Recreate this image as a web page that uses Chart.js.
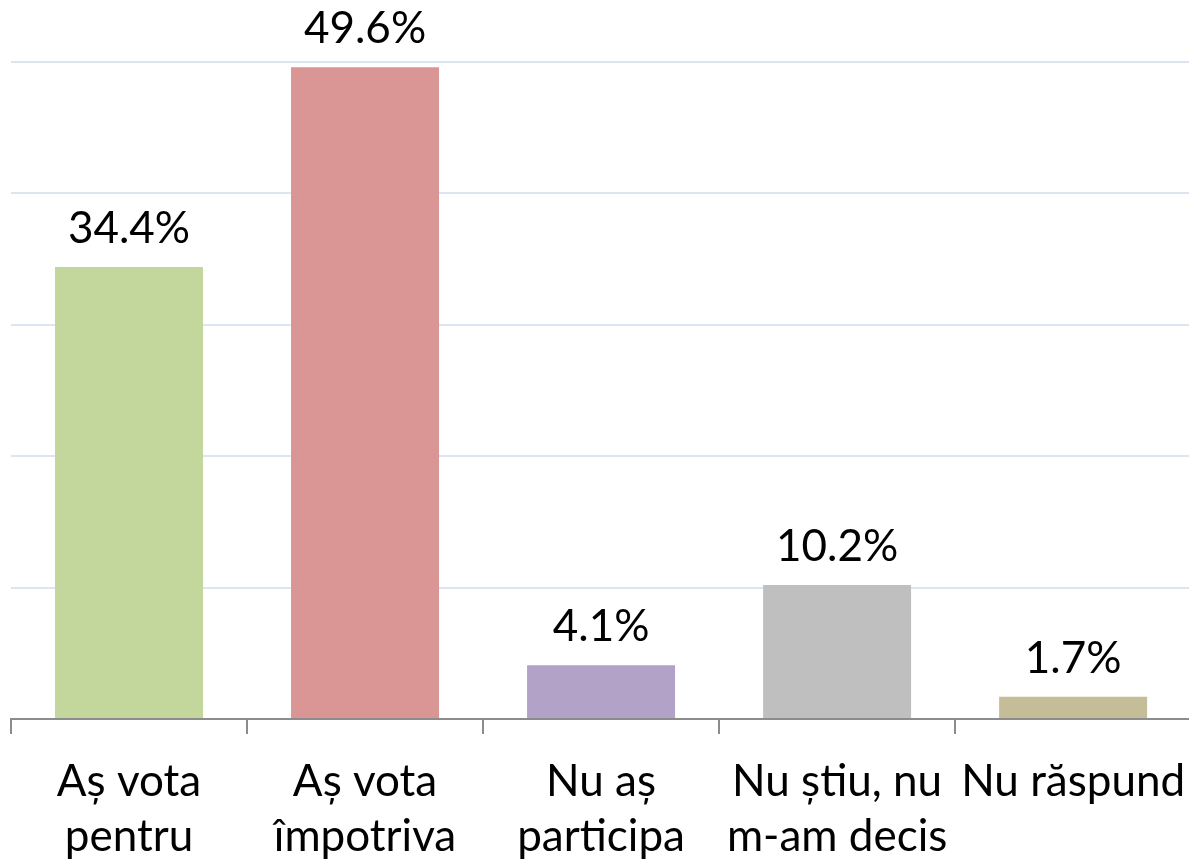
<!DOCTYPE html>
<html><head><meta charset="utf-8">
<script src="https://cdn.jsdelivr.net/npm/chart.js@4"></script>
<style>
html,body{margin:0;padding:0;background:#fff;overflow:hidden;}
#wrap{width:1189px;height:865px;overflow:hidden;}
</style></head>
<body><div id="wrap"><canvas id="c" width="1206" height="884"></canvas></div>
<script>
const categories = [['Aș vota','pentru'],['Aș vota','împotriva'],['Nu aș','participa'],['Nu știu, nu','m-am decis'],['Nu răspund']];
const values = [34.4, 49.6, 4.1, 10.2, 1.7];
const barColors = ['#c3d69b','#d99694','#b3a2c7','#bfbfbf','#c4bd97'];
const FONT = 'Lato, "Open Sans", sans-serif';

const valueLabels = {
  id:'valueLabels',
  afterDatasetsDraw(chart){
    const ctx = chart.ctx;
    const meta = chart.getDatasetMeta(0);
    ctx.save();
    ctx.font = '44px ' + FONT;
    ctx.fillStyle = '#000';
    ctx.textAlign = 'center';
    ctx.textBaseline = 'alphabetic';
    meta.data.forEach((bar,i)=>{
      ctx.fillText(values[i].toFixed(1)+'%', bar.x, bar.y - 24);
    });
    ctx.restore();
  }
};

new Chart(document.getElementById('c'),{
  type:'bar',
  data:{labels:categories,datasets:[{data:values,backgroundColor:barColors,borderWidth:0,categoryPercentage:1,barPercentage:0.627}]},
  options:{
    responsive:false,animation:false,
    layout:{padding:{left:11,right:9,top:62,bottom:0}},
    plugins:{legend:{display:false},tooltip:{enabled:false}},
    scales:{
      x:{
        offset:true,
        grid:{offset:true,drawOnChartArea:false,color:'#8c8c8c',lineWidth:2,tickLength:15},
        border:{color:'#8c8c8c',width:2},
        ticks:{color:'#000',font:{family:FONT,size:44,lineHeight:1.25},padding:20,maxRotation:0,autoSkip:false}
      },
      y:{
        min:0,max:50,
        ticks:{display:false,stepSize:10},
        grid:{color:'#dce6f2',lineWidth:2,drawTicks:false},
        border:{display:false}
      }
    }
  },
  plugins:[valueLabels]
});
</script></body></html>
